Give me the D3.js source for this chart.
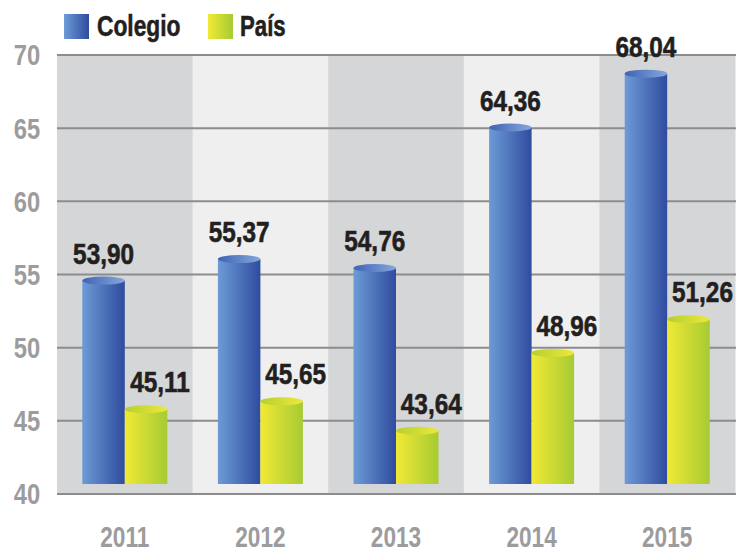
<!DOCTYPE html>
<html><head><meta charset="utf-8">
<script src="https://cdn.jsdelivr.net/npm/d3@7"></script>
<style>
html,body{margin:0;padding:0;background:#fff;}
svg text{font-family:"Liberation Sans","Arial",sans-serif;font-weight:bold;}
</style></head>
<body>
<svg id="chart" width="736" height="553"></svg>
<script>
const years = ["2011","2012","2013","2014","2015"];
const seriesNames = ["Colegio","País"];
const colegio = [53.90, 55.37, 54.76, 64.36, 68.04];
const pais = [45.11, 45.65, 43.64, 48.96, 51.26];
const yTicks = [40,45,50,55,60,65,70];

const svg = d3.select("#chart");
const W = 736, H = 553;
const mLeft = 57, mRight = 735, mTop = 55, mBottom = 494;
const depth = 10;
const SX = 0.82;

const x0 = d3.scaleBand().domain(years).range([mLeft, mRight]).padding(0);
const x1 = d3.scaleBand().domain(seriesNames).range([0, x0.bandwidth()]).paddingInner(0).paddingOuter(0.595);
const y = d3.scaleLinear().domain([40,70]).range([mBottom, mTop]);

const defs = svg.append("defs");
function grad(id, c1, c2){
  const g = defs.append("linearGradient").attr("id", id).attr("x1","0%").attr("x2","100%").attr("y1","0%").attr("y2","0%");
  g.append("stop").attr("offset","0%").attr("stop-color", c1);
  g.append("stop").attr("offset","100%").attr("stop-color", c2);
}
grad("gBlue", "#6d9bd6", "#2f4c9f");
grad("gBlueTop", "#3f62b4", "#86a8dc");
grad("gYel", "#f1e935", "#a6cb33");
grad("gYelTop", "#b4d030", "#eee83a");
const fills = {"Colegio":"url(#gBlue)","País":"url(#gYel)"};
const topFills = {"Colegio":"url(#gBlueTop)","País":"url(#gYelTop)"};

function narrowText(parent, x, yy, txt, opts){
  const t = parent.append("text")
    .attr("transform", `translate(${x},${yy}) scale(${opts.sx||SX},1)`)
    .attr("text-anchor", opts.anchor || "middle")
    .attr("fill", opts.fill).attr("font-size", opts.size)
    .text(txt);
  if (opts.dy) t.attr("dy", opts.dy);
  if (opts.stroke) t.attr("stroke", opts.fill).attr("stroke-width", opts.stroke);
  return t;
}

// bands
svg.append("g").selectAll("rect").data(years).join("rect")
  .attr("x", d => x0(d)).attr("y", mTop)
  .attr("width", x0.bandwidth()+0.5).attr("height", mBottom-mTop)
  .attr("fill", (d,i) => i%2===0 ? "#d5d6d8" : "#efefef");

// gridlines
svg.append("g").selectAll("line").data(yTicks).join("line")
  .attr("x1", mLeft).attr("x2", W)
  .attr("y1", d => y(d)).attr("y2", d => y(d))
  .attr("stroke", "#8c8c8c").attr("stroke-width", 2);

// y tick labels
const gy = svg.append("g");
yTicks.forEach(t => narrowText(gy, 27, y(t), String(t), {fill:"#9c9c9e", size:29, dy:"0.36em"}));

// year labels
const gx = svg.append("g");
years.forEach(yr => narrowText(gx, x0(yr)+x0.bandwidth()/2, 547, yr, {fill:"#9c9c9e", size:29, sx:0.78}));

// bars
const data = [];
years.forEach((yr,i) => {
  data.push({year:yr, s:"Colegio", v:colegio[i]});
  data.push({year:yr, s:"País", v:pais[i]});
});
const bw = x1.bandwidth();
const ry = 4;
const gBars = svg.append("g");
const gLabels = svg.append("g");
data.forEach(d => {
  const bx = x0(d.year) + x1(d.s);
  const yt = y(d.v) - depth;
  const yb = y(40) - depth;
  gBars.append("rect").attr("x", bx).attr("y", yt).attr("width", bw).attr("height", yb-yt).attr("fill", fills[d.s]);
  gBars.append("ellipse").attr("cx", bx+bw/2).attr("cy", yt).attr("rx", bw/2).attr("ry", ry)
    .attr("fill", topFills[d.s]);
  narrowText(gLabels, bx+bw/2 + (d.s==="País" ? 14 : 0), yt-17, d.v.toFixed(2).replace(".", ","),
    {fill:"#231f20", size:29, sx:0.84, stroke:0.6});
});

// legend
const lg = svg.append("g");
lg.append("rect").attr("x",64).attr("y",14).attr("width",25).attr("height",25).attr("fill","url(#gBlue)");
narrowText(lg, 97, 36, seriesNames[0], {fill:"#231f20", size:30, sx:0.76, anchor:"start", stroke:0.6});
lg.append("rect").attr("x",208).attr("y",14).attr("width",25).attr("height",25).attr("fill","url(#gYel)");
narrowText(lg, 240, 36, seriesNames[1], {fill:"#231f20", size:30, sx:0.74, anchor:"start", stroke:0.6});
</script>
</body></html>
